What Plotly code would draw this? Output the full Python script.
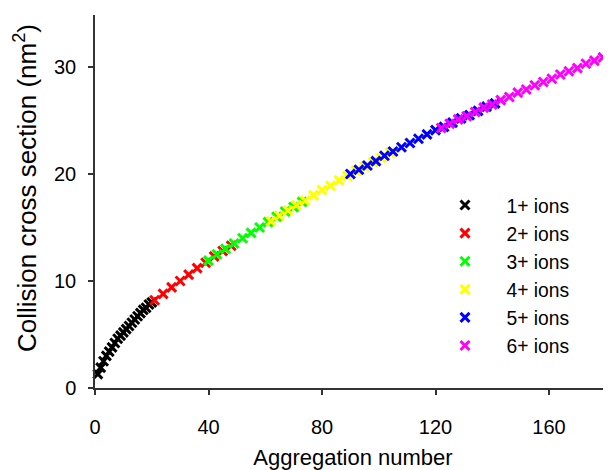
import plotly.graph_objects as go

# Aggregation number (x) and collision cross section in nm^2 (y)
n_1 = [1, 2, 3, 4, 5, 6, 7, 8, 9, 10, 11, 12, 13, 14, 15, 16, 17, 18, 19, 20]
ccs_1 = [1.3, 1.9, 2.5, 3.0, 3.4, 3.8, 4.2, 4.6, 4.9, 5.2, 5.5, 5.8, 6.1, 6.4, 6.7, 7.0, 7.3, 7.5, 7.8, 8.0]

n_2 = [21, 24, 27, 30, 33, 36, 39, 42, 45, 48]
ccs_2 = [8.2, 8.8, 9.4, 10.0, 10.6, 11.2, 11.7, 12.3, 12.8, 13.3]

n_3 = [40, 43, 46, 49, 52, 55, 58, 61, 64, 67, 70, 73]
ccs_3 = [11.9, 12.5, 13.0, 13.5, 14.0, 14.5, 15.0, 15.5, 16.0, 16.5, 16.9, 17.4]

n_4 = [62, 65, 68, 71, 74, 77, 80, 83, 86, 89, 92, 95, 98, 101, 104]
ccs_4 = [15.6, 16.1, 16.6, 17.1, 17.5, 18.0, 18.5, 18.9, 19.4, 19.8, 20.3, 20.7, 21.1, 21.5, 22.0]

n_5 = [90, 93, 96, 99, 102, 105, 108, 111, 114, 117, 120, 123, 126, 129, 132, 135, 138, 141]
ccs_5 = [20.0, 20.4, 20.8, 21.2, 21.7, 22.1, 22.5, 22.9, 23.3, 23.7, 24.1, 24.4, 24.8, 25.2, 25.5, 25.9, 26.3, 26.6]

n_6 = [122, 125, 128, 131, 134, 137, 140, 143, 146, 149, 152, 155, 158, 161, 164, 167, 170, 173, 176, 179]
ccs_6 = [24.3, 24.7, 25.1, 25.4, 25.8, 26.2, 26.5, 26.9, 27.2, 27.6, 27.9, 28.3, 28.6, 28.9, 29.3, 29.6, 29.9, 30.3, 30.6, 30.9]

series_names = ["1+ ions", "2+ ions", "3+ ions", "4+ ions", "5+ ions", "6+ ions"]
series_x = [n_1, n_2, n_3, n_4, n_5, n_6]
series_y = [ccs_1, ccs_2, ccs_3, ccs_4, ccs_5, ccs_6]
series_colors = ["#000000", "#FF0000", "#00FF00", "#FFFF00", "#0000FF", "#FF00FF"]

x_ticks = [0, 40, 80, 120, 160]
y_ticks = [0, 10, 20, 30]

FONT = "Liberation Sans, Arial, sans-serif"

fig = go.Figure()
for i, (name, xs, ys, col) in enumerate(zip(series_names, series_x, series_y, series_colors)):
    fig.add_trace(go.Scatter(
        x=xs, y=ys, mode="markers", name="\u00a0\u00a0\u00a0\u00a0" + name,
        legendgroup="g%d" % i,
        cliponaxis=False,
        marker=dict(symbol="x-thin", size=9, color=col,
                    line=dict(color=col, width=3)),
    ))

axis_common = dict(
    showline=True, linecolor="#333333", linewidth=1.5,
    ticks="outside", ticklen=5, tickwidth=1.5, tickcolor="#333333",
    showgrid=False, zeroline=False, automargin=False,
    tickfont=dict(family=FONT, size=20, color="#000000"),
)

# the page body has an 8px margin, so the figure is offset by (8, 8) in the window
fig.update_layout(
    width=611, height=470,
    margin=dict(l=87, r=8, t=7, b=90),
    paper_bgcolor="white", plot_bgcolor="white",
    font=dict(family=FONT, color="#000000"),
    xaxis=dict(range=[0, 181.85], tickvals=x_ticks, ticktext=[str(v) for v in x_ticks],
               ticklabelstandoff=15,
               title=dict(text="Aggregation number", font=dict(size=22, family=FONT), standoff=13),
               **axis_common),
    yaxis=dict(range=[0, 34.86], tickvals=y_ticks, ticktext=[str(v) for v in y_ticks],
               ticklabelstandoff=8,
               **axis_common),
    annotations=[dict(
        text="Collision cross section (nm<sup>2</sup>)", textangle=-90,
        xref="paper", yref="paper", x=(25 - 95) / 516, y=(388 - 188) / 373,
        xanchor="center", yanchor="middle", showarrow=False,
        font=dict(size=26, family=FONT, color="#000000"),
    )],
    showlegend=True,
    legend=dict(x=(437 - 87) / 516, y=(380 - 178) / 373, xanchor="left", yanchor="top",
                bgcolor="rgba(0,0,0,0)", borderwidth=0,
                font=dict(family=FONT, size=19.3, color="#000000"),
                tracegroupgap=0, traceorder="normal"),
)

fig.write_html("out.html")
